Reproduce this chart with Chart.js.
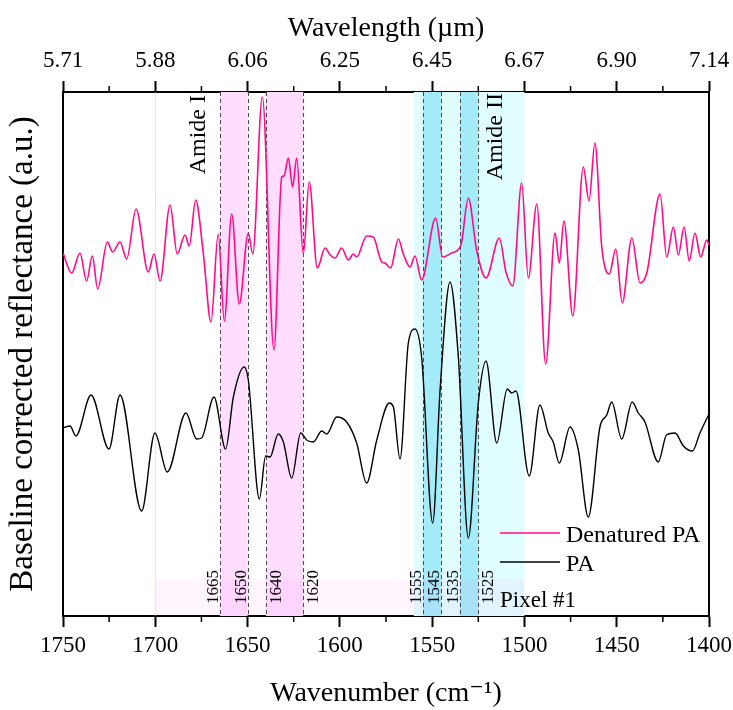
<!DOCTYPE html>
<html>
<head>
<meta charset="utf-8">
<script src="https://cdn.jsdelivr.net/npm/chart.js@4.4.0/dist/chart.umd.min.js"></script>
<style>
  html, body { margin: 0; padding: 0; background: #fff; }
  #wrap { width: 733px; height: 710px; }
</style>
</head>
<body>
<div id="wrap"><canvas id="spec" width="733" height="710"></canvas></div>
<script>
// ---------------- DATA ----------------
// Denatured PA, wavenumber (cm-1) and baseline corrected reflectance (a.u.)
const denaturedWn = [
  1750, 1745.3, 1740.8, 1737.2, 1734.1, 1731.2, 1726.0, 1723.1, 1719.1, 1715.5,
  1710.4, 1703.8, 1700.7, 1697.4, 1692.0, 1688.1, 1683.9, 1681.6, 1678.1, 1674.0,
  1669.8, 1665.9, 1662.6, 1658.6, 1654.5, 1649.6, 1647.2, 1642.0, 1635.7, 1631.5,
  1630.3, 1627.9, 1625.6, 1623.4, 1619.8, 1616.6, 1612.2, 1608.0, 1605.3, 1602.6,
  1599.0, 1595.4, 1592.7, 1590.9, 1585.5, 1581.9, 1577.3, 1575.6, 1572.5, 1568.3,
  1565.6, 1562.0, 1559.3, 1555.7, 1548.1, 1544.3, 1539.4, 1534.4, 1530.4, 1525.9,
  1520.8, 1513.6, 1510.0, 1506.3, 1501.5, 1497.9, 1493.3, 1488.5, 1483.4, 1481.1,
  1478.6, 1473.8, 1468.1, 1465.0, 1461.8, 1458.1, 1454.0, 1450.5, 1447.0, 1441.8,
  1437.4, 1433.7, 1426.5, 1422.9, 1419.3, 1416.6, 1413.5, 1410.7, 1407.6, 1404.5,
  1401.2, 1400
];
const denaturedVal = [
  3.63, 3.43, 3.63, 3.35, 3.60, 3.27, 3.74, 3.64, 3.74, 3.57,
  4.07, 3.44, 3.62, 3.35, 4.11, 3.62, 3.81, 3.70, 4.16, 3.63,
  2.94, 3.82, 2.95, 4.02, 3.12, 3.83, 3.62, 5.19, 2.66, 4.39,
  4.40, 4.58, 4.29, 4.58, 3.62, 4.34, 3.48, 3.68, 3.61, 3.58,
  3.68, 3.56, 3.62, 3.59, 3.80, 3.79, 3.54, 3.53, 3.48, 3.77,
  3.62, 3.49, 3.60, 3.36, 3.98, 3.59, 3.63, 3.71, 4.18, 3.66,
  3.38, 3.78, 3.44, 3.30, 4.33, 3.38, 4.12, 2.52, 3.83, 3.53,
  3.95, 3.00, 4.49, 4.15, 4.73, 3.69, 3.42, 3.67, 3.13, 3.78,
  3.33, 3.43, 4.22, 3.59, 3.89, 3.61, 3.89, 3.55, 3.83, 3.59,
  3.76, 3.71
];

// PA
const paWn = [
  1750, 1746.2, 1743.0, 1734.8, 1725.1, 1719.1, 1707.4, 1700.2, 1693.5, 1683.4,
  1677.6, 1674.9, 1668.2, 1661.9, 1657.7, 1651.9, 1649.6, 1643.6, 1640.2, 1637.8,
  1633.4, 1630.6, 1626.1, 1621.2, 1618.0, 1614.4, 1609.8, 1607.1, 1601.7, 1596.3,
  1590.9, 1585.5, 1580.0, 1573.2, 1571.0, 1567.4, 1562.9, 1559.3, 1555.7, 1549.7,
  1545.7, 1540.3, 1535.8, 1530.4, 1525.0, 1520.8, 1515.0, 1509.3, 1506.9, 1504.6,
  1497.4, 1491.6, 1487.1, 1484.4, 1481.1, 1475.3, 1470.8, 1465.4, 1459.1, 1455.4,
  1452.7, 1447.3, 1441.6, 1438.3, 1434.7, 1427.5, 1423.0, 1418.4, 1413.9, 1409.0,
  1404.9, 1400
];
const paVal = [
  1.88, 1.90, 1.80, 2.21, 1.67, 2.21, 1.05, 1.83, 1.44, 2.03,
  1.77, 1.78, 2.19, 1.67, 2.19, 2.49, 2.36, 1.17, 1.60, 1.59,
  1.82, 1.74, 1.38, 1.83, 1.76, 1.74, 1.85, 1.82, 1.99, 1.94,
  1.73, 1.33, 1.76, 2.13, 2.09, 1.57, 2.73, 2.87, 2.59, 0.93,
  2.26, 3.34, 2.59, 0.78, 2.13, 2.55, 1.73, 2.27, 2.23, 2.25,
  1.40, 2.11, 1.83, 1.74, 1.53, 1.89, 1.66, 0.99, 1.89, 2.01,
  2.14, 1.77, 2.14, 2.03, 1.94, 1.54, 1.81, 1.83, 1.70, 1.65,
  1.83, 2.02
];

const seriesNames = ["Denatured PA", "PA"];
const seriesColors = ["#ff0a88", "#000000"];

// marked regions (cm-1)
const amideIBands = [[1665, 1650], [1640, 1620]];
const amideIIRange = [1560, 1500];
const amideIIBands = [[1555, 1545], [1535, 1525]];
const markerLines = [1665, 1650, 1640, 1620, 1555, 1545, 1535, 1525];
const pixelRange = [1700, 1500];

const majorTicks = [1750, 1700, 1650, 1600, 1550, 1500, 1450, 1400];
const minorTicks = [1725, 1675, 1625, 1575, 1525, 1475, 1425];

const FONT = '"Liberation Serif", "DejaVu Serif", serif';

// ---------------- HELPERS ----------------
function toPoints(xs, ys) {
    return xs.map((x, i) => ({ x: x, y: ys[i] }));
}

function text(ctx, str, x, y, size, opts) {
    opts = opts || {};
    ctx.save();
    ctx.font = `${size}px ${FONT}`;
    ctx.fillStyle = opts.color || "#000";
    ctx.textAlign = opts.align || "left";
    ctx.textBaseline = opts.baseline || "alphabetic";
    ctx.translate(x, y);
    if (opts.rotate) ctx.rotate(opts.rotate);
    ctx.fillText(str, 0, 0);
    ctx.restore();
}

// keep the plot box fixed, no extra room for edge labels
function fixHeight(h) {
    return s => { s.height = h; s.paddingLeft = 0; s.paddingRight = 0; };
}
function fixWidth(w) {
    return s => { s.width = w; s.paddingTop = 0; s.paddingBottom = 0; };
}

// ---------------- BACKGROUND BANDS ----------------
const bandsPlugin = {
    id: "bands",
    beforeDatasetsDraw(chart) {
        const { ctx, chartArea: a, scales: { x } } = chart;
        const px = v => x.getPixelForValue(v);
        const fillBand = (r, color, top, bottom) => {
            const l = Math.min(px(r[0]), px(r[1]));
            const w = Math.abs(px(r[1]) - px(r[0]));
            ctx.fillStyle = color;
            ctx.fillRect(l, top, w, bottom - top);
        };

        ctx.save();
        fillBand(amideIIRange, "rgb(224,254,255)", a.top, a.bottom);
        amideIIBands.forEach(b => fillBand(b, "rgb(164,236,250)", a.top, a.bottom));
        amideIBands.forEach(b => fillBand(b, "rgb(255,221,255)", a.top, a.bottom));

        // pixel strip along the bottom
        fillBand(pixelRange, "rgba(255,0,255,0.04)", a.bottom - 37, a.bottom);

        // faint guide at 1700
        ctx.strokeStyle = "rgba(180,215,215,0.45)";
        ctx.lineWidth = 1;
        ctx.beginPath();
        ctx.moveTo(Math.round(px(1700)) + 0.5, a.top);
        ctx.lineTo(Math.round(px(1700)) + 0.5, a.bottom);
        ctx.stroke();

        // dashed markers
        ctx.strokeStyle = "#4d4d4d";
        ctx.lineWidth = 1;
        ctx.setLineDash([4, 3]);
        markerLines.forEach(v => {
            const xx = Math.round(px(v)) + 0.5;
            ctx.beginPath();
            ctx.moveTo(xx, a.top);
            ctx.lineTo(xx, a.bottom);
            ctx.stroke();
        });
        ctx.restore();
    }
};

// ---------------- LABELS / LEGEND / MINOR TICKS ----------------
const labelsPlugin = {
    id: "labels",
    afterDraw(chart) {
        const { ctx, chartArea: a, scales: { x } } = chart;
        const px = v => x.getPixelForValue(v);

        // minor ticks top and bottom
        ctx.save();
        ctx.strokeStyle = "#000";
        ctx.lineWidth = 1.5;
        minorTicks.forEach(v => {
            const xx = px(v);
            ctx.beginPath();
            ctx.moveTo(xx, a.bottom);
            ctx.lineTo(xx, a.bottom + 6);
            ctx.moveTo(xx, a.top);
            ctx.lineTo(xx, a.top - 6);
            ctx.stroke();
        });
        ctx.restore();

        const up = -Math.PI / 2;
        text(ctx, "Amide I", px(1665) - 15, a.top + 3, 24, { rotate: up, align: "right" });
        text(ctx, "Amide II", px(1525) + 24, a.top + 1, 24, { rotate: up, align: "right" });

        // wavenumber tags at the foot of each dashed line
        const rightSide = [1640, 1620, 1525];
        markerLines.forEach(v => {
            const onRight = rightSide.includes(v);
            const xx = px(v) + (onRight ? 2 : -2);
            text(ctx, String(v), xx, a.bottom - 12, 17, {
                rotate: up,
                align: "left",
                baseline: onRight ? "top" : "alphabetic"
            });
        });

        text(ctx, "Pixel #1", 500, a.bottom - 9, 23);

        // legend
        const rows = [533, 562];
        chart.data.datasets.forEach((ds, i) => {
            ctx.save();
            ctx.strokeStyle = ds.borderColor;
            ctx.lineWidth = 1.5;
            ctx.beginPath();
            ctx.moveTo(500, rows[i]);
            ctx.lineTo(560, rows[i]);
            ctx.stroke();
            ctx.restore();
            text(ctx, ds.label, 566, rows[i] + 9, 24);
        });
    }
};

// ---------------- CHART ----------------
const axisFont = { family: FONT, size: 23 };

new Chart(document.getElementById("spec"), {
    type: "line",
    data: {
        datasets: [
            {
                label: seriesNames[0],
                data: toPoints(denaturedWn, denaturedVal),
                borderColor: seriesColors[0],
                borderWidth: 1.6,
                pointRadius: 0,
                cubicInterpolationMode: "monotone",
                fill: false
            },
            {
                label: seriesNames[1],
                data: toPoints(paWn, paVal),
                borderColor: seriesColors[1],
                borderWidth: 1.4,
                pointRadius: 0,
                cubicInterpolationMode: "monotone",
                fill: false
            }
        ]
    },
    options: {
        responsive: false,
        animation: false,
        devicePixelRatio: 1,
        layout: { padding: 0 },
        plugins: {
            legend: { display: false },
            tooltip: { enabled: false }
        },
        scales: {
            x: {
                type: "linear",
                position: "bottom",
                reverse: true,
                min: 1400,
                max: 1750,
                afterBuildTicks: s => { s.ticks = majorTicks.map(v => ({ value: v })); },
                ticks: {
                    color: "#000",
                    font: axisFont,
                    padding: 5,
                    maxRotation: 0,
                    autoSkip: false,
                    callback: v => String(v)
                },
                grid: { drawOnChartArea: false, tickLength: 11, tickWidth: 2, tickColor: "#000" },
                border: { color: "#000", width: 2 },
                title: {
                    display: true,
                    text: "Wavenumber (cm\u207B\u00B9)",
                    color: "#000",
                    font: { family: FONT, size: 28 },
                    padding: { top: 0, bottom: 0 }
                },
                afterFit: fixHeight(94)
            },
            xTop: {
                type: "linear",
                position: "top",
                reverse: true,
                min: 1400,
                max: 1750,
                afterBuildTicks: s => { s.ticks = majorTicks.map(v => ({ value: v })); },
                ticks: {
                    color: "#000",
                    font: axisFont,
                    padding: 6,
                    maxRotation: 0,
                    autoSkip: false,
                    callback: v => (10000 / v).toFixed(2)
                },
                grid: { drawOnChartArea: false, tickLength: 11, tickWidth: 2, tickColor: "#000" },
                border: { color: "#000", width: 2 },
                title: {
                    display: true,
                    text: "Wavelength (\u00B5m)",
                    color: "#000",
                    font: { family: FONT, size: 28 },
                    padding: { top: 12, bottom: 0 }
                },
                afterFit: fixHeight(92)
            },
            y: {
                position: "left",
                min: 0,
                max: 5.24,
                ticks: { display: false },
                grid: { drawOnChartArea: false, drawTicks: false },
                border: { color: "#000", width: 2 },
                title: {
                    display: true,
                    text: "Baseline corrected reflectance (a.u.)",
                    color: "#000",
                    font: { family: FONT, size: 33 },
                    padding: { top: 4, bottom: 0 }
                },
                afterFit: fixWidth(63)
            },
            yRight: {
                position: "right",
                min: 0,
                max: 5.24,
                ticks: { display: false },
                grid: { drawOnChartArea: false, drawTicks: false },
                border: { color: "#000", width: 2 },
                afterFit: fixWidth(24)
            }
        }
    },
    plugins: [bandsPlugin, labelsPlugin]
});
</script>
</body>
</html>
